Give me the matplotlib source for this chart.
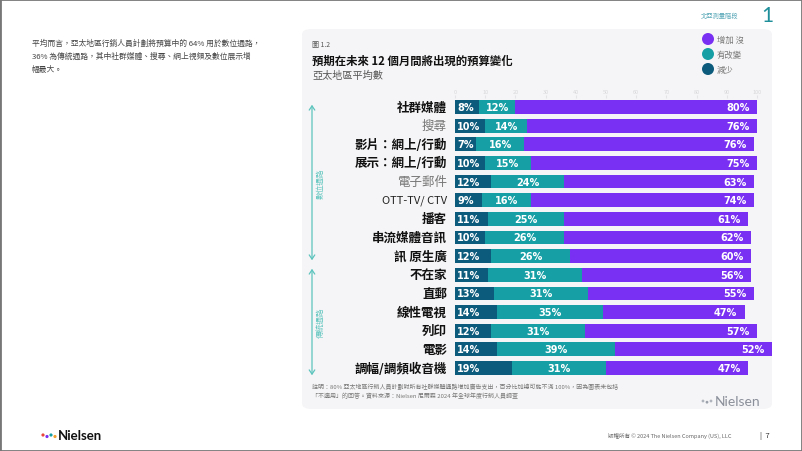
import matplotlib

matplotlib.use("Agg")
import matplotlib.pyplot as plt
from matplotlib.patches import FancyBboxPatch, Rectangle, Ellipse, FancyArrowPatch

plt.rcParams["font.family"] = ["Noto Sans CJK TC", "DejaVu Sans"]

categories = [
    "社群媒體", "搜尋", "影片：網上/行動", "展示：網上/行動", "電子郵件",
    "OTT-TV/ CTV", "播客", "串流媒體音訊", "訊 原生廣", "不在家",
    "直郵", "線性電視", "列印", "電影", "調幅/調頻收音機",
]
decrease = [8, 10, 7, 10, 12, 9, 11, 10, 12, 11, 13, 14, 12, 14, 19]
no_change = [12, 14, 16, 15, 24, 16, 25, 26, 26, 31, 31, 35, 31, 39, 31]
increase = [80, 76, 76, 75, 63, 74, 61, 62, 60, 56, 55, 47, 57, 52, 47]
legend_labels = ["增加 沒", "有改變", "減少"]
top_ticks = list(range(0, 110, 10))

C_DEC = "#0d5b7c"
C_NC = "#16a0a6"
C_INC = "#7a30f2"
C_ARROW = "#5cc4bd"

W, H = 802, 452
fig = plt.figure(figsize=(W / 100, H / 100), dpi=100)
fig.patch.set_facecolor("white")


def fx(x):
    return x / W


def fy(y):
    return 1 - y / H


def dot(x, y, r, col):
    # round dot given in pixels
    fig.add_artist(Ellipse((fx(x), fy(y)), 2 * r / W, 2 * r / H,
                           transform=fig.transFigure, facecolor=col,
                           edgecolor="none", zorder=2))


# page frame and grey chart panel
fig.add_artist(Rectangle((0, 0), 1, 1, transform=fig.transFigure, fill=False,
                         edgecolor="#777777", linewidth=2, zorder=5))
fig.add_artist(FancyBboxPatch((fx(302), fy(410)), fx(470), (410 - 30) / H,
                              boxstyle="round,pad=0,rounding_size=0.012",
                              transform=fig.transFigure, facecolor="#f5f5f7",
                              edgecolor="none", zorder=-5))

# bar axes
x0_px, unit_px = 455, 3.02
row_px = 18.64
n = len(categories)
xmax = 106
top_px = 108 - row_px / 2
ax = fig.add_axes([fx(x0_px), fy(top_px + n * row_px),
                   xmax * unit_px / W, n * row_px / H])
ax.set_facecolor("none")

ypos = list(range(n))
bh = 0.74
ax.barh(ypos, decrease, height=bh, color=C_DEC)
ax.barh(ypos, no_change, left=decrease, height=bh, color=C_NC)
left_inc = [d + c for d, c in zip(decrease, no_change)]
ax.barh(ypos, increase, left=left_inc, height=bh, color=C_INC)

for i in ypos:
    d, c, u = decrease[i], no_change[i], increase[i]
    kw = dict(color="white", fontsize=7, fontweight="bold", va="center",
              family=["DejaVu Sans"])
    ax.text(0.8, i, f"{d}%", ha="left", **kw)
    ax.text(d + c / 2, i, f"{c}%", ha="center", **kw)
    ax.text(d + c + u - 2.5, i, f"{u}%", ha="right", **kw)

ax.set_xlim(0, xmax)
ax.set_ylim(n - 0.5, -0.5)
ax.set_yticks([])
ax.xaxis.tick_top()
ax.set_xticks(top_ticks)
ax.set_xticklabels([str(t) for t in top_ticks], fontsize=4, color="#d8d8dc")
ax.tick_params(axis="x", length=2, color="#e4e4e8", pad=1)
for s in ax.spines.values():
    s.set_visible(False)

# category labels
for i, cat in enumerate(categories):
    y = 108 + i * row_px
    if cat in ("搜尋", "電子郵件"):
        fig.text(fx(447), fy(y), cat, ha="right", va="center", fontsize=9,
                 color="#777777")
    elif cat.startswith("OTT"):
        fig.text(fx(447), fy(y), cat, ha="right", va="center", fontsize=8,
                 color="#222222")
    else:
        fig.text(fx(447), fy(y), cat, ha="right", va="center", fontsize=9,
                 fontweight="bold", color="#111111")

# section arrows
for (ya, yb, lab) in [(103, 264, "數位通路"), (267, 379, "傳統通路")]:
    fig.add_artist(FancyArrowPatch(
        (fx(312), fy(ya)), (fx(312), fy(yb)), transform=fig.transFigure,
        arrowstyle="<->,head_length=3,head_width=2", color=C_ARROW, linewidth=0.9))
    fig.text(fx(321), fy((ya + yb) / 2), lab, rotation=90, ha="center",
             va="center", fontsize=5.5, color=C_ARROW)

# titles
fig.text(fx(312), fy(45), "圖 1.2", fontsize=5, color="#555555", va="center")
fig.text(fx(312), fy(61), "預期在未來 12 個月間將出現的預算變化", fontsize=8.2,
         fontweight="bold", color="#111111", va="center")
fig.text(fx(312), fy(76), "亞太地區平均數", fontsize=7.3, style="italic",
         color="#555555", va="center")

# legend
for k, (lab, col) in enumerate(zip(legend_labels, [C_INC, C_NC, C_DEC])):
    y = 40 + k * 15
    dot(708, y, 6, col)
    fig.text(fx(717), fy(y), lab, fontsize=6, color="#777777", va="center")

# left paragraph
para = ["平均而言，亞太地區行銷人員計劃將預算中的 64% 用於數位通路，",
        "36% 為傳統通路，其中社群媒體、搜尋、網上視頻及數位展示增",
        "幅最大。"]
for k, line in enumerate(para):
    fig.text(fx(32), fy(44 + k * 13), line, fontsize=5.6, color="#444444",
             va="center")

# notes
fig.text(fx(312), fy(387), "註明：80% 亞太地區行銷人員計劃對所有社群媒體通路增加廣告支出，百分比加總可能不滿 100%，因為圖表未包括",
         fontsize=4.3, color="#777777", va="center")
fig.text(fx(312), fy(396), "「不適用」的回答。資料來源：Nielsen 尼爾森 2024 年全球年度行銷人員調查",
         fontsize=4.3, color="#777777", va="center")
fig.text(fx(760), fy(402), "Nielsen", fontsize=10, color="#8a8f99", ha="right",
         va="center", family=["Lato", "DejaVu Sans"])
for k, col in enumerate(["#b0b4bc", "#9aa0aa", "#b0b4bc"]):
    dot(703 + k * 4, 402 + (k % 2) * 1.2, 1.4, col)

# page header / footer
fig.text(fx(738), fy(16), "北亞測量階段", fontsize=4.5, color="#5aa8b8",
         ha="right", va="center")
fig.text(fx(767), fy(16), "1", fontsize=15, color="#1f8f9a", ha="center",
         va="center", family=["Lato", "DejaVu Sans"])
fig.text(fx(732), fy(436), "版權所有 © 2024 The Nielsen Company (US), LLC",
         fontsize=4, color="#666666", ha="right", va="center")
fig.text(fx(760), fy(436), "|  7", fontsize=5.5, color="#333333", ha="left",
         va="center")
fig.text(fx(58), fy(436), "Nielsen", fontsize=9.5, fontweight="bold",
         color="#111111", ha="left", va="center", family=["Lato", "DejaVu Sans"])
for k, col in enumerate(["#e8453c", "#7a30f2", "#16a0a6", "#f0a030"]):
    dot(43 + k * 4, 436 + (k % 2) * 1.5, 1.6, col)

fig.savefig("out.png", dpi=100, facecolor="white")
